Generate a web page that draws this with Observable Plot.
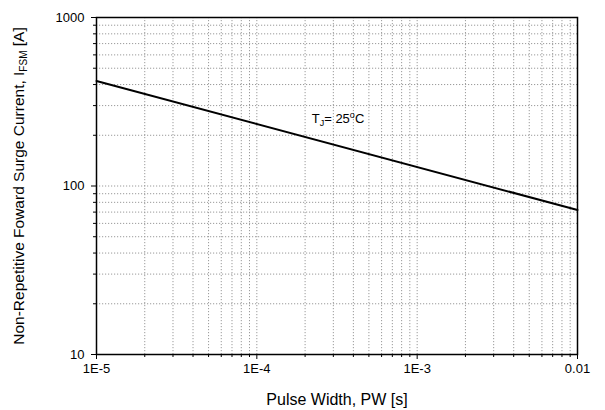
<!DOCTYPE html>
<html><head><meta charset="utf-8">
<script src="https://cdn.jsdelivr.net/npm/d3@7"></script>
<script src="https://cdn.jsdelivr.net/npm/@observablehq/plot@0.6"></script>
<style>
body{margin:0;background:#fff}
svg{font-family:"Liberation Sans",Arial,sans-serif}
</style>
</head><body><div id="chart"></div>
<script>
const pulseWidth = [1e-5, 1e-2];
const surgeCurrent = [420, 72];
const xMajor = [1e-5, 1e-4, 1e-3, 1e-2];
const xTickLabels = ["1E-5", "1E-4", "1E-3", "0.01"];
const xMinor = [2e-5,3e-5,4e-5,5e-5,6e-5,7e-5,8e-5,9e-5,
                2e-4,3e-4,4e-4,5e-4,6e-4,7e-4,8e-4,9e-4,
                2e-3,3e-3,4e-3,5e-3,6e-3,7e-3,8e-3,9e-3];
const yMajor = [10, 100, 1000];
const yTickLabels = ["10", "100", "1000"];
const yMinor = [20,30,40,50,60,70,80,90,200,300,400,500,600,700,800,900];
const annotation = [{x: 2.2e-4, y: 251, label: "TJ= 25oC"}];
const xTitle = "Pulse Width, PW [s]";
const yTitle = ["Non-Repetitive Foward Surge Current, I", "FSM", " [A]"];

const data = pulseWidth.map((x, i) => ({x, y: surgeCurrent[i]}));
const gridStyle = {stroke: "#9a9a9a", strokeOpacity: 1, strokeWidth: 1, strokeDasharray: "1.2,1.8"};

const chart = Plot.plot({
  width: 605, height: 410,
  marginLeft: 96, marginRight: 28, marginTop: 17, marginBottom: 56,
  style: {background: "#fff", color: "#000", fontSize: "13px", fontFamily: "Liberation Sans, Arial, sans-serif"},
  x: {type: "log", domain: [1e-5, 1e-2]},
  y: {type: "log", domain: [10, 1000]},
  marks: [
    Plot.gridX([...xMajor, ...xMinor], gridStyle),
    Plot.gridY([...yMajor, ...yMinor], gridStyle),
    Plot.axisX(xMajor, {tickSize: 5, tickPadding: 4, tickFormat: d => xTickLabels[xMajor.indexOf(d)], fontSize: 13, label: null}),
    Plot.axisX(xMinor, {tickSize: 3, text: null, label: null}),
    Plot.axisY(yMajor, {tickSize: 5, tickPadding: 7, tickFormat: d => yTickLabels[yMajor.indexOf(d)], fontSize: 13, label: null}),
    Plot.axisY(yMinor, {tickSize: 3, text: null, label: null}),
    Plot.line(data, {x: "x", y: "y", stroke: "#000", strokeWidth: 2}),
    Plot.frame({stroke: "#000", strokeWidth: 1.5}),
    Plot.text(annotation, {x: "x", y: "y", text: "label", textAnchor: "start", fontSize: 13, fill: "#000"})
  ]
});
document.getElementById("chart").appendChild(chart);

const svg = d3.select(chart);
// annotation with subscript / superscript
svg.selectAll("text").each(function() {
  if (this.textContent === "TJ= 25oC") {
    const t = d3.select(this);
    const tn = t.select("tspan").empty() ? t : t.select("tspan");
    tn.text(null);
    tn.append("tspan").text("T");
    tn.append("tspan").attr("font-size", 9).attr("dy", "3").text("J");
    tn.append("tspan").attr("dy", "-3").text("= 25");
    tn.append("tspan").attr("font-size", 9).attr("dy", "-5").text("o");
    tn.append("tspan").attr("dy", "5").text("C");
  }
});
// axis titles
svg.append("text")
  .attr("x", 337).attr("y", 405)
  .attr("text-anchor", "middle").attr("font-size", 16).attr("fill", "#000")
  .text(xTitle);
const yt = svg.append("text")
  .attr("transform", "translate(24,186) rotate(-90)")
  .attr("text-anchor", "middle").attr("font-size", 15.5).attr("fill", "#000");
yt.append("tspan").text(yTitle[0]);
yt.append("tspan").attr("font-size", 10).attr("dy", "3").text(yTitle[1]);
yt.append("tspan").attr("dy", "-3").text(yTitle[2]);
</script>
</body></html>
